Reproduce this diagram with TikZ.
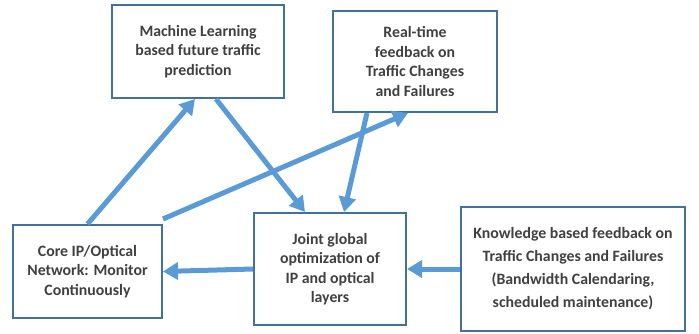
\documentclass[tikz,border=0pt]{standalone}
\usepackage{fontspec}
\setmainfont{Carlito}
\usetikzlibrary{arrows.meta,calc}
\definecolor{boxline}{HTML}{41719C}
\definecolor{arrowblue}{HTML}{5B9BD5}
\definecolor{txt}{HTML}{404040}
\begin{document}
\begin{tikzpicture}[x=1pt,y=-1pt,
  boxnode/.style={draw=boxline,line width=2pt,fill=white,inner sep=0pt,align=center,
    text=txt,font=\bfseries\fontsize{15.8}{19.5}\selectfont},
  flow/.style={draw=arrowblue,line width=5pt,-{Triangle[length=15pt,width=17pt]}}]
\useasboundingbox (0,0) rectangle (699,333);
\node[boxnode,minimum width=172pt,minimum height=93pt] (ml) at (198,51.5)
  {Machine Learning\\based future traffic\\prediction};
\node[boxnode,minimum width=164pt,minimum height=101pt] (rt) at (415,61.5)
  {Real-time\\feedback on\\Traffic Changes\\and Failures};
\node[boxnode,minimum width=149pt,minimum height=93pt] (core) at (87.5,271.5)
  {Core IP/Optical\\Network: Monitor\\Continuously};
\node[boxnode,minimum width=152pt,minimum height=112pt] (joint) at (330,269)
  {Joint global\\optimization of\\IP and optical\\layers};
\node[boxnode,minimum width=224pt,minimum height=124pt,font=\bfseries\fontsize{15.8}{23}\selectfont] (kn) at (573,269)
  {Knowledge based feedback on\\Traffic Changes and Failures\\(Bandwidth Calendaring,\\scheduled maintenance)};
\draw[flow] (core.north) -- ([xshift=-3pt]ml.south);
\draw[flow] ([xshift=18pt]ml.south) -- ([xshift=-25pt]joint.north);
\draw[flow] ([yshift=5pt]core.north east) -- ([xshift=-7pt]rt.south);
\draw[flow] ([xshift=-48pt]rt.south) -- ([xshift=14pt]joint.north);
\draw[flow] (joint.west) -- (core.east);
\draw[flow] (kn.west) -- (joint.east);
\end{tikzpicture}
\end{document}
